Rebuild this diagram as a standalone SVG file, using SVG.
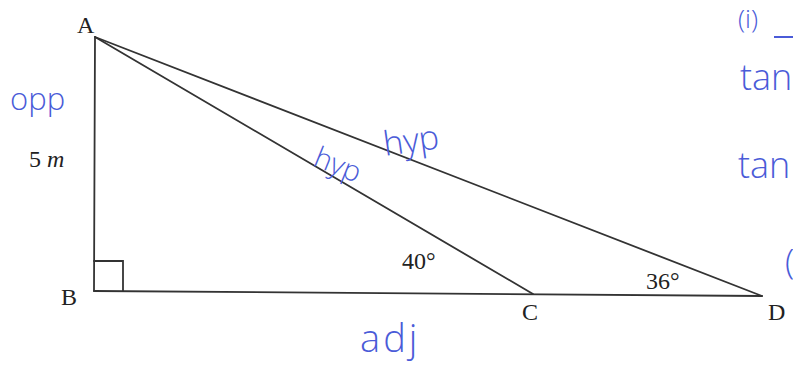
<svg xmlns="http://www.w3.org/2000/svg" width="793" height="371" viewBox="0 0 793 371">
<style>
.ln{stroke:#333;stroke-width:1.8;fill:none;stroke-linecap:round}
.lbl{font-family:"Liberation Serif",serif;font-size:24px;fill:#222}
.hw{font-family:"Open Sans","DejaVu Sans",sans-serif;font-weight:300;fill:#4a5bd8}
</style>
<rect width="793" height="371" fill="#fff"/>
<g id="connectors">
<line class="ln" x1="95" y1="37" x2="94" y2="291"/>
<line class="ln" x1="94" y1="291" x2="762" y2="296"/>
<line class="ln" x1="95" y1="37" x2="533" y2="294"/>
<line class="ln" x1="95" y1="37" x2="762" y2="296"/>
<path class="ln" d="M94 261 H123 V291" stroke-width="1.6"/>
</g>
<g id="A"><text class="lbl" x="77" y="33">A</text></g>
<g id="B"><text class="lbl" x="61" y="305">B</text></g>
<g id="C"><text class="lbl" x="522" y="320">C</text></g>
<g id="D"><text class="lbl" x="768" y="320">D</text></g>
<g id="labels">
<text class="lbl" x="29" y="167">5 <tspan font-style="italic">m</tspan></text>
<text class="lbl" x="402" y="269">40°</text>
<text class="lbl" x="646" y="289">36°</text>
</g>
<g id="handwriting">
<text class="hw" x="10" y="110" font-size="31">opp</text>
<text class="hw" x="312" y="165" font-size="29" transform="rotate(22 312 165)">hyp</text>
<text class="hw" x="385" y="156" font-size="34" transform="rotate(-8 385 156)">hyp</text>
<text class="hw" x="360" y="352" font-size="38" letter-spacing="3">adj</text>
<text class="hw" x="738" y="28" font-size="26">(i)</text>
<line x1="774" y1="37" x2="793" y2="37" stroke="#4a5bd8" stroke-width="2"/>
<text class="hw" x="740" y="90" font-size="36">tan</text>
<text class="hw" x="738" y="178" font-size="36">tan</text>
<text class="hw" x="785" y="274" font-size="34">(</text>
</g>
</svg>
